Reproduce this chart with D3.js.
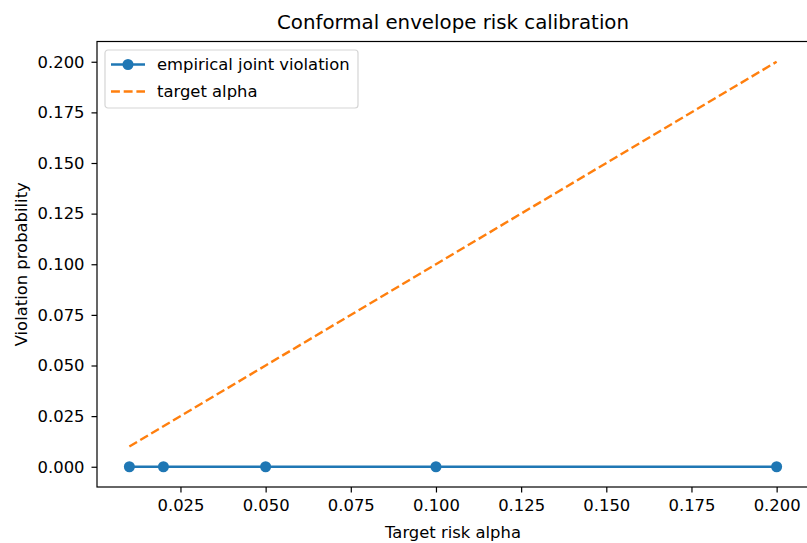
<!DOCTYPE html>
<html>
<head>
<meta charset="utf-8">
<script src="https://cdn.jsdelivr.net/npm/d3@7"></script>
<style>
  body { margin: 0; background: #fff; }
  text { font-family: "DejaVu Sans", sans-serif; fill: #000; }
</style>
</head>
<body>
<div id="chart"></div>
<script>
// data
const alphas = [0.01, 0.02, 0.05, 0.1, 0.2]
const empiricalViolation = [0, 0, 0, 0, 0]
const targetAlpha = [0.01, 0.02, 0.05, 0.1, 0.2]
const xTicks = [0.025, 0.05, 0.075, 0.1, 0.125, 0.15, 0.175, 0.2]
const yTicks = [0, 0.025, 0.05, 0.075, 0.1, 0.125, 0.15, 0.175, 0.2]
const seriesNames = ['empirical joint violation', 'target alpha']

const W = 807, H = 543
const MARGIN = { TOP: 41.5, BOTTOM: 56, LEFT: 97, RIGHT: -2 }
const WIDTH = W - MARGIN.LEFT - MARGIN.RIGHT
const HEIGHT = H - MARGIN.TOP - MARGIN.BOTTOM
const BLUE = '#1f77b4', ORANGE = '#ff7f0e'
const FONT = '16.4px'

const svg = d3.select('#chart').append('svg')
    .attr('width', W)
    .attr('height', H)

const g = svg.append('g')
    .attr('transform', `translate(${MARGIN.LEFT}, ${MARGIN.TOP})`)

// matplotlib style 5% padding on both axes
const xPad = (d3.max(alphas) - d3.min(alphas)) * 0.05
const x = d3.scaleLinear()
    .domain([d3.min(alphas) - xPad, d3.max(alphas) + xPad])
    .range([0, WIDTH])

const yAll = empiricalViolation.concat(targetAlpha)
const yPad = (d3.max(yAll) - d3.min(yAll)) * 0.05
const y = d3.scaleLinear()
    .domain([d3.min(yAll) - yPad, d3.max(yAll) + yPad])
    .range([HEIGHT, 0])

const xAxis = g.append('g')
    .attr('transform', `translate(0, ${HEIGHT})`)
    .call(d3.axisBottom(x).tickValues(xTicks).tickFormat(d3.format('.3f')).tickSize(5.5).tickPadding(7))
const yAxis = g.append('g')
    .call(d3.axisLeft(y).tickValues(yTicks).tickFormat(d3.format('.3f')).tickSize(5.5).tickPadding(7))

for (const ax of [xAxis, yAxis]) {
    ax.select('.domain').remove()
    ax.selectAll('line').attr('stroke', '#000').attr('stroke-width', 1.2)
    ax.selectAll('text').style('font-size', FONT).style('font-family', '"DejaVu Sans", sans-serif').attr('fill', '#000')
}

// spines
g.append('rect')
    .attr('width', WIDTH)
    .attr('height', HEIGHT)
    .attr('fill', 'none')
    .attr('stroke', '#000')
    .attr('stroke-width', 1.2)

const line = d3.line()
    .x(d => x(d[0]))
    .y(d => y(d[1]))

g.append('path')
    .datum(d3.zip(alphas, empiricalViolation))
    .attr('d', line)
    .attr('fill', 'none')
    .attr('stroke', BLUE)
    .attr('stroke-width', 2.4)

g.selectAll('circle.pt')
    .data(d3.zip(alphas, empiricalViolation))
    .enter().append('circle')
        .attr('class', 'pt')
        .attr('cx', d => x(d[0]))
        .attr('cy', d => y(d[1]))
        .attr('r', 5.5)
        .attr('fill', BLUE)

g.append('path')
    .datum(d3.zip(alphas, targetAlpha))
    .attr('d', line)
    .attr('fill', 'none')
    .attr('stroke', ORANGE)
    .attr('stroke-width', 2.4)
    .attr('stroke-dasharray', '8.9,3.8')

// title and labels
svg.append('text')
    .attr('x', MARGIN.LEFT + WIDTH / 2)
    .attr('y', 29)
    .attr('text-anchor', 'middle')
    .style('font-size', '19.8px')
    .text('Conformal envelope risk calibration')

svg.append('text')
    .attr('x', MARGIN.LEFT + WIDTH / 2)
    .attr('y', 538)
    .attr('text-anchor', 'middle')
    .style('font-size', FONT)
    .text('Target risk alpha')

svg.append('text')
    .attr('transform', `translate(27, ${MARGIN.TOP + HEIGHT / 2}) rotate(-90)`)
    .attr('text-anchor', 'middle')
    .style('font-size', FONT)
    .text('Violation probability')

// legend
const legend = svg.append('g').attr('transform', 'translate(105, 50)')
legend.append('rect')
    .attr('width', 253)
    .attr('height', 58)
    .attr('rx', 3)
    .attr('fill', 'rgba(255,255,255,0.8)')
    .attr('stroke', '#d5d5d5')
    .attr('stroke-width', 1.2)

const rows = legend.selectAll('g.row')
    .data(seriesNames)
    .enter().append('g')
        .attr('class', 'row')
        .attr('transform', (d, i) => `translate(0, ${14.5 + i * 27})`)

rows.append('line')
    .attr('x1', 6).attr('x2', 40)
    .attr('stroke', (d, i) => i === 0 ? BLUE : ORANGE)
    .attr('stroke-width', 2.4)
    .attr('stroke-dasharray', (d, i) => i === 0 ? null : '8.9,3.8')

rows.filter((d, i) => i === 0).append('circle')
    .attr('cx', 23)
    .attr('r', 5.5)
    .attr('fill', BLUE)

rows.append('text')
    .attr('x', 52)
    .attr('dy', '0.36em')
    .style('font-size', FONT)
    .text(d => d)
</script>
</body>
</html>
